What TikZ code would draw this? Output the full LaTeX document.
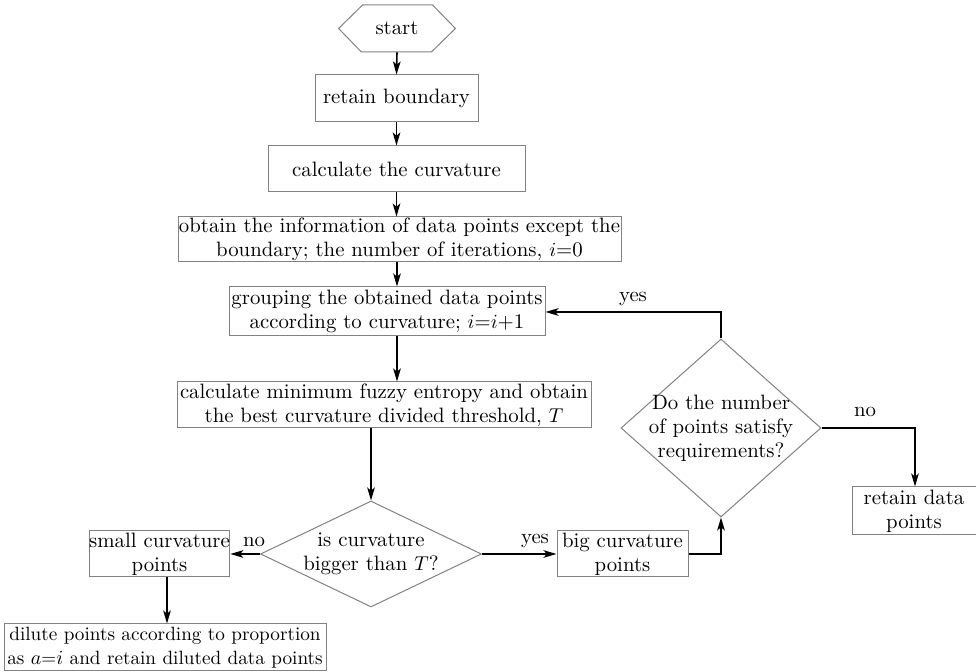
\documentclass[tikz,border=0pt]{standalone}
\usetikzlibrary{shapes.geometric,arrows.meta,calc}
\definecolor{boxgray}{RGB}{130,130,130}
\newcommand{\fs}{\fontsize{10.4pt}{12pt}\selectfont}
\newcommand{\fsn}{\fontsize{9.6pt}{12pt}\selectfont}
\begin{document}
\begin{tikzpicture}[x=0.5pt,y=-0.5pt,
  box/.style={draw=boxgray,line width=0.5pt,rectangle,inner sep=0pt,align=center,font=\fs},
  dia/.style={draw=boxgray,line width=0.5pt,diamond,inner sep=0pt},
  conn/.style={line width=0.8pt,-{Stealth[length=6.5pt,width=3.8pt,inset=1.6pt]}},
  plain/.style={line width=0.8pt},
  lbl/.style={font=\fs,inner sep=0pt,align=center}]
\useasboundingbox (0,0) rectangle (976,672);
\fill[white] (0,0) rectangle (976,672);

% start hexagon
\node[lbl,minimum width=58pt,minimum height=23.5pt] (start) at (397,28.5) {start};
\draw[draw=boxgray,line width=0.5pt] (start.west) -- ++(24,-23.5) -- ++(70,0) -- (start.east) -- ++(-24,23.5) -- ++(-70,0) -- cycle;

\node[box,minimum width=81.5pt,minimum height=23.5pt] (rb) at (396.5,98.5) {retain boundary};
\node[box,minimum width=128.5pt,minimum height=23pt] (cc) at (396.5,169) {calculate the curvature};
\node[box,minimum width=221.5pt,minimum height=22.5pt] (ob) at (399.5,239.5)
  {obtain the information of data points except the\\ boundary; the number of iterations, $i$=0};
\node[box,minimum width=158pt,minimum height=24.5pt] (gr) at (387,311.5)
  {grouping the obtained data points\\ according to curvature; $i$=$i$+1};
\node[box,minimum width=207pt,minimum height=23pt] (cm) at (384,405)
  {calculate minimum fuzzy entropy and obtain\\ the best curvature divided threshold, $T$};

\node[dia,minimum width=110.5pt,minimum height=53pt] (d1) at (371,554) {};
\node[lbl] (d1t) at (371,554) {is curvature\\ bigger than $T$?};

\node[box,minimum width=69.5pt,minimum height=23pt] (sc) at (159.5,554) {small curvature\\ points};
\node[box,minimum width=161pt,minimum height=23.5pt,font=\fsn] (di) at (165,647.5)
  {dilute points according to proportion\\ as $a$=$i$ and retain diluted data points};
\node[box,minimum width=65.5pt,minimum height=23pt] (bc) at (622.5,554) {big curvature\\ points};

\node[dia,minimum width=100pt,minimum height=89pt] (d2) at (721,428) {};
\node[lbl] (d2t) at (721,428) {Do the number\\ of points satisfy\\ requirements?};

\node[box,minimum width=62pt,minimum height=24pt] (rd) at (914,511) {retain data\\ points};

\coordinate (yc) at (721,312);
\coordinate (nc) at (915,428);

% connectors
\draw[conn] (start.south) -- (rb.north);
\draw[conn] (rb.south) -- (cc.north);
\draw[conn] (cc.south) -- (cc.south |- ob.north);
\draw[conn] (ob.south -| start) -- (gr.north -| start);
\draw[conn] (gr.south -| start) -- (cm.north -| start);
\draw[conn] (cm.south -| d1) -- (d1.north);
\draw[conn] (d1.west) -- (sc.east);
\draw[conn] (d1.east) -- (bc.west);
\draw[conn] (sc.south -| 167,0) -- (di.north -| 167,0);
\draw[conn] (bc.east) -| (d2.south);
\draw[conn] (d2.north) -- (yc) -- (yc -| gr.east);
\draw[conn] (d2.east) -- (nc) -- (rd.north -| nc);

% labels
\node[lbl] (lyes1) at (633,299) {yes};
\node[lbl] (lno1) at (865,412) {no};
\node[lbl] (lno2) at (254,542) {no};
\node[lbl] (lyes2) at (535,541) {yes};
\end{tikzpicture}
\end{document}
